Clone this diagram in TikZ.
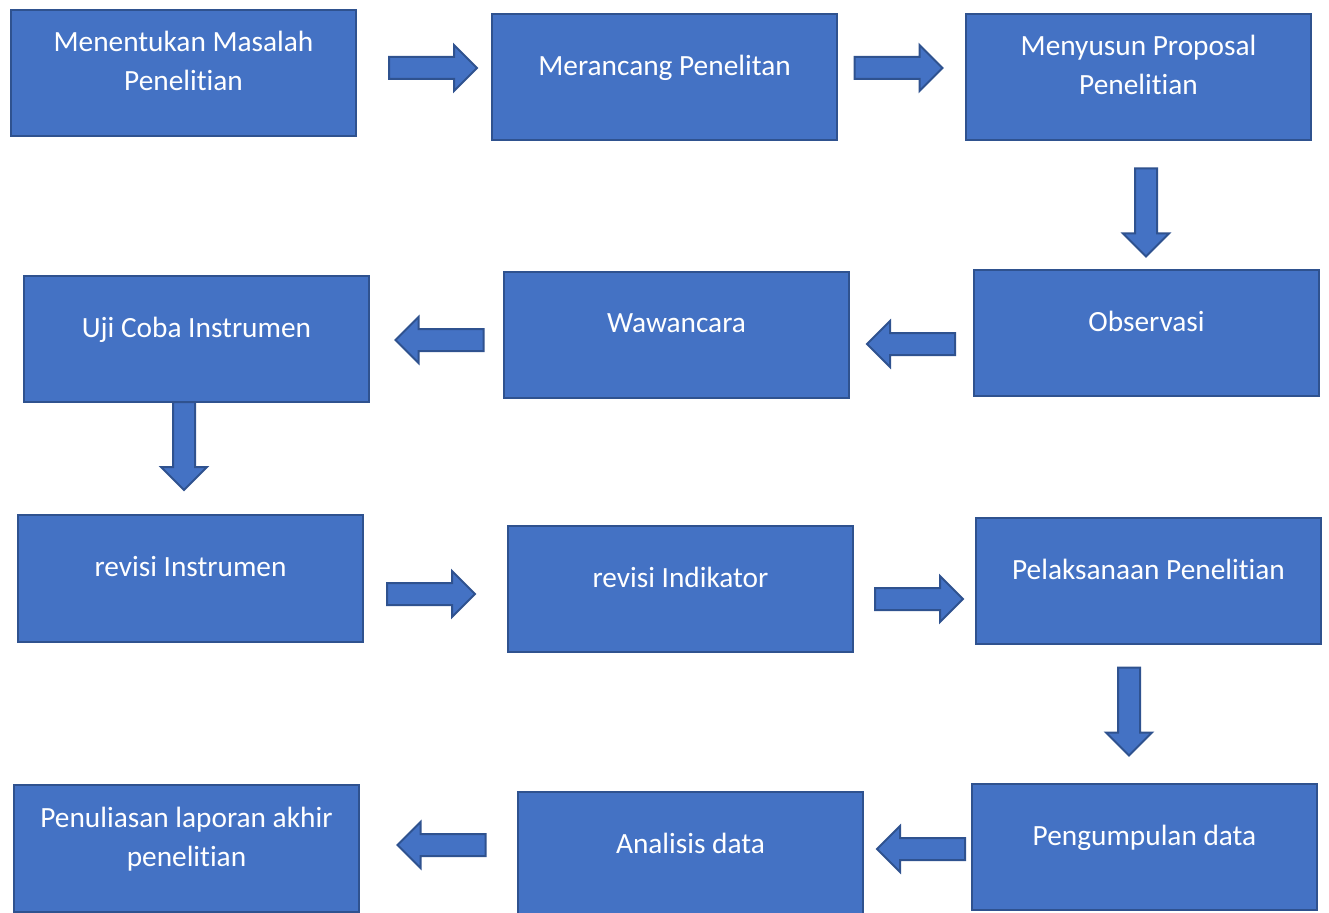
\documentclass[tikz,border=0pt]{standalone}
\usepackage{fontspec}
\setmainfont{Carlito}[Ligatures=NoCommon]
\definecolor{boxfill}{HTML}{4472C4}
\definecolor{boxline}{HTML}{2F528F}
\tikzset{
  stagebox/.style={draw=boxline, fill=boxfill, line width=1.5pt, minimum width=259pt, minimum height=95pt,
    inner sep=0pt, text=white, align=center, text depth=18pt, font=\fontsize{22}{29.3}\selectfont},
  blockarr/.pic={\draw[draw=boxline, fill=boxfill, line width=1.5pt]
    (-44,-11) -- (21,-11) -- (21,-23) -- (44,0) -- (21,23) -- (21,11) -- (-44,11) -- cycle;}
}
\begin{document}
\begin{tikzpicture}[x=0.75pt,y=0.75pt,yscale=-1,xscale=1]
            \useasboundingbox (0,0) rectangle (1329,913);
            % row 1
            \node[stagebox] (masalah) at (183.5,73) {Menentukan Masalah\\Penelitian};
            \node[stagebox] (rancang) at (664.5,77) {Merancang Penelitan};
            \node[stagebox] (proposal) at (1138.5,77) {Menyusun Proposal\\Penelitian};
            % row 2
            \node[stagebox] (observasi) at (1146.5,333) {Observasi};
            \node[stagebox] (wawancara) at (676.5,335) {Wawancara};
            \node[stagebox] (ujicoba) at (196.5,339) {Uji Coba Instrumen};
            % row 3
            \node[stagebox] (revinstr) at (190.5,578.5) {revisi Instrumen};
            \node[stagebox] (revind) at (680.5,589) {revisi Indikator};
            \node[stagebox] (pelaksanaan) at (1148.5,581) {Pelaksanaan Penelitian};
            % row 4
            \node[stagebox] (pengumpulan) at (1144.5,847) {Pengumpulan data};
            \node[stagebox] (analisis) at (690.5,855) {Analisis data};
            \node[stagebox] (laporan) at (186.5,848.5) {Penuliasan laporan akhir\\penelitian};
            % block arrows
            \pic (a1) at (433,68) {blockarr};
            \pic (a2) at (898.5,68) {blockarr};
            \pic[rotate=-90] (a3) at (1146,212.5) {blockarr};
            \pic[rotate=180] (a4) at (911,344) {blockarr};
            \pic[rotate=180] (a5) at (439.5,340) {blockarr};
            \pic[rotate=-90] (a6) at (184,446) {blockarr};
            \pic (a7) at (431,594) {blockarr};
            \pic (a8) at (919,599) {blockarr};
            \pic[rotate=-90] (a9) at (1129,711.5) {blockarr};
            \pic[rotate=180] (a10) at (921,849) {blockarr};
            \pic[rotate=180] (a11) at (441.5,845) {blockarr};
        \end{tikzpicture}
\end{document}
